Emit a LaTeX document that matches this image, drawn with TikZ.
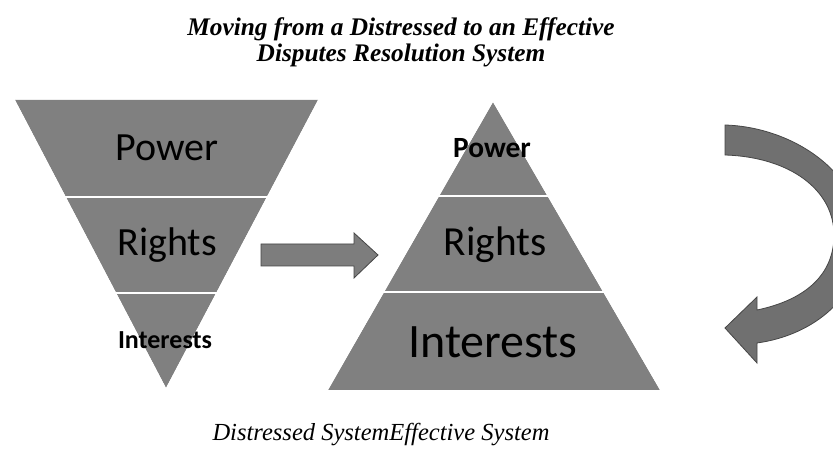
\documentclass[tikz,border=0pt]{standalone}
\usepackage{fontspec}
\setmainfont{Liberation Serif}
\newfontfamily\calfont{Carlito}
\newfontfamily\titlefont{Liberation Serif}
\definecolor{tri}{RGB}{128,128,128}
\definecolor{arr}{RGB}{125,125,125}
\definecolor{arrline}{RGB}{70,70,70}
\definecolor{carr}{RGB}{112,112,112}
\tikzset{
  trishape/.style={fill=tri,draw=none},
  divline/.style={draw=white,line width=2.2pt},
  biglbl/.style={font=\calfont\fontsize{30}{30}\selectfont,text=black,inner sep=0pt},
  hugelbl/.style={font=\calfont\fontsize{36}{36}\selectfont,text=black,inner sep=0pt},
  smalllbl/.style={font=\calfont\bfseries\fontsize{19.5}{19.5}\selectfont,text=black,inner sep=0pt},
  arrowshape/.style={fill=arr,draw=arrline,line width=0.6pt,line join=miter},
  curvearrow/.style={fill=carr,draw=arrline,line width=0.6pt,line join=miter},
  titletext/.style={font=\titlefont\bfseries\itshape\fontsize{19}{19.5}\selectfont,align=center,inner sep=0pt},
  captext/.style={font=\itshape\fontsize{18.4}{18.4}\selectfont,inner sep=0pt}
}
\begin{document}
\begin{tikzpicture}[x=0.75pt,y=-0.75pt]
\useasboundingbox (0,0) rectangle (833,452);
% title
\node[titletext] (title) at (401,42) {Moving from a Distressed to an Effective\\Disputes Resolution System};
% left inverted triangle
\fill[trishape] (15,100) -- (318,100) -- (166,388) -- cycle;
\draw[divline] (0,197) -- (340,197);
\draw[divline] (0,293) -- (340,293);
\fill[white] (0,95) -- (15,100) -- (166,388) -- (0,395) -- cycle;
\fill[white] (340,95) -- (318,100) -- (166,388) -- (340,395) -- cycle;
\node[biglbl] (lpower) at (167,148) {Power};
\node[biglbl] (lrights) at (167,245) {Rights};
\node[smalllbl] (linterests) at (165,340) {Interests};
% right triangle
\fill[trishape] (493,102) -- (660,390) -- (328,390) -- cycle;
\draw[divline] (330,196) -- (660,196);
\draw[divline] (330,292) -- (660,292);
\fill[white] (325,100) -- (493,102) -- (328,390) -- (325,390) -- cycle;
\fill[white] (665,100) -- (493,102) -- (660,390) -- (665,390) -- cycle;
\node[smalllbl,font=\calfont\bfseries\fontsize{22}{22}\selectfont] (rpower) at (492,148) {Power};
\node[biglbl,font=\calfont\fontsize{31}{31}\selectfont] (rrights) at (495,245) {Rights};
\node[hugelbl] (rinterests) at (493,342) {Interests};
% straight arrow
\draw[arrowshape] (261,244) -- (354,244) -- (354,233) -- (378,255) -- (354,278) -- (354,266) -- (261,266) -- cycle;
% curved arrow
\draw[curvearrow] (725,125) .. controls (792,127) and (862,172) .. (862,240)
  .. controls (862,295) and (815,335) .. (757,343)
  -- (757,363) -- (725,328) -- (757,297) -- (757,310)
  .. controls (805,300) and (834,275) .. (834,235)
  .. controls (834,190) and (790,157) .. (725,155) -- cycle;
% caption
\node[captext] (caption) at (381,435) {Distressed SystemEffective System};
\end{tikzpicture}
\end{document}
